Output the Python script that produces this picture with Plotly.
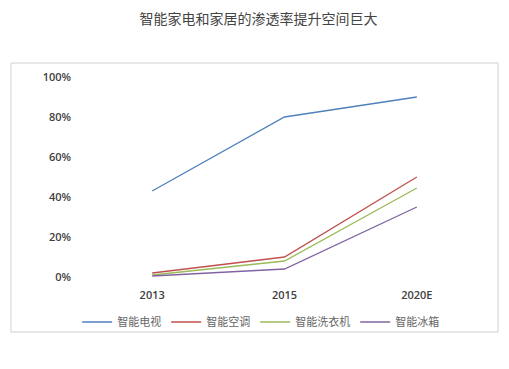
import plotly.graph_objects as go

categories = ["2013", "2015", "2020E"]
tv = [0.43, 0.80, 0.90]
ac = [0.02, 0.10, 0.50]
washer = [0.01, 0.08, 0.445]
fridge = [0.005, 0.04, 0.35]
names = ["智能电视", "智能空调", "智能洗衣机", "智能冰箱"]
colors = ["#4F81BD", "#C0504D", "#9BBB59", "#8064A2"]

fig = go.Figure()
for name, vals, c in zip(names, [tv, ac, washer, fridge], colors):
    fig.add_trace(go.Scatter(x=categories, y=vals, mode="lines", name=name,
                             line=dict(color=c, width=1.3)))

W, H = 501, 361
fig.update_layout(
    width=W, height=H,
    margin=dict(l=78, r=26, t=69, b=92),
    paper_bgcolor="white", plot_bgcolor="white",
    font=dict(family="Noto Sans CJK SC", color="#444"),
    title=dict(text="智能家电和家居的渗透率提升空间巨大", x=0.5, xanchor="center",
               y=1 - 11/H, yanchor="middle",
               font=dict(size=14, color="#444", family="Noto Sans CJK SC")),
    xaxis=dict(type="category", range=[-0.5, 2.5], showgrid=False, showline=False,
               zeroline=False,
               tickfont=dict(size=11, color="#404040", family="Open Sans", weight=600),
               ticklabelstandoff=10),
    yaxis=dict(range=[0, 1], tickvals=[0, 0.2, 0.4, 0.6, 0.8, 1.0], tickformat=".0%",
               showgrid=False, zeroline=False, showline=False,
               tickfont=dict(size=11, color="#404040", family="Open Sans", weight=600),
               ticklabelstandoff=14),
    showlegend=True,
    legend=dict(orientation="h", x=0.44, xanchor="center", y=-0.225, yanchor="middle",
                bgcolor="rgba(0,0,0,0)",
                font=dict(size=11, color="#666"), itemwidth=30, tracegroupgap=0),
    shapes=[dict(type="rect", xref="paper", yref="paper", x0=-0.189, x1=1.038,
                 y0=-0.275, y1=1.07, line=dict(color="#D0D0D0", width=1))],
)

fig.write_html("out.html")
